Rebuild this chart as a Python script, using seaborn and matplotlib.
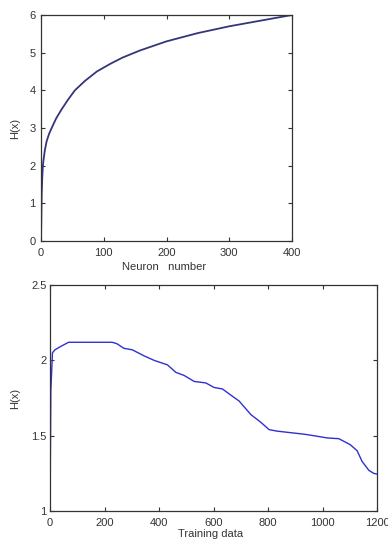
import numpy as np
import pandas as pd
import matplotlib
matplotlib.use("Agg")
import matplotlib.pyplot as plt
import seaborn as sns
from matplotlib.ticker import FormatStrFormatter

# top panel: H(x) against neuron number
neurons = [0, 1, 2, 3, 4, 6, 9, 13, 17, 24, 33, 43, 54, 70, 89, 110, 130,
           158, 200, 250, 300, 350, 400]
h_neuron = [0, 1.2, 1.7, 2.0, 2.15, 2.4, 2.65, 2.85, 3.0, 3.25, 3.5, 3.75,
            4.0, 4.25, 4.5, 4.7, 4.87, 5.06, 5.3, 5.52, 5.7, 5.85, 6.0]

# bottom panel: H(x) against training data
training = [0, 3, 9, 18, 37, 68, 120, 180, 228, 246, 271, 302, 345, 382,
            431, 462, 492, 529, 572, 602, 633, 663, 694, 737, 773, 804,
            834, 883, 932, 968, 1017, 1060, 1102, 1127, 1145, 1170, 1188, 1200]
h_training = [1.0, 1.8, 2.05, 2.07, 2.09, 2.12, 2.12, 2.12, 2.12, 2.11,
              2.08, 2.07, 2.03, 2.0, 1.97, 1.92, 1.9, 1.86, 1.85, 1.82,
              1.81, 1.77, 1.73, 1.64, 1.59, 1.54, 1.53, 1.52, 1.51, 1.5,
              1.485, 1.48, 1.44, 1.4, 1.33, 1.27, 1.25, 1.245]

sns.set_style("ticks")
plt.rcParams['font.family'] = ['Liberation Sans', 'DejaVu Sans']

fig = plt.figure(figsize=(3.88, 5.43), dpi=100)
ax1 = fig.add_axes([0.1057, 0.5562, 0.647, 0.4162])
ax2 = fig.add_axes([0.1289, 0.0589, 0.8428, 0.4162])

df1 = pd.DataFrame({"n": neurons, "h": h_neuron})
df2 = pd.DataFrame({"t": training, "h": h_training})

sns.lineplot(data=df1, x="n", y="h", ax=ax1, color="#35357a", lw=1.3)
sns.lineplot(data=df2, x="t", y="h", ax=ax2, color="#3030d0", lw=1.0)

ax1.set_xlim(0, 400)
ax1.set_ylim(0, 6)
ax1.set_xticks(np.arange(0, 401, 100))
ax1.set_yticks(np.arange(0, 7, 1))

ax2.set_xlim(0, 1200)
ax2.set_ylim(1, 2.5)
ax2.set_xticks(np.arange(0, 1201, 200))
ax2.set_yticks([1, 1.5, 2, 2.5])
ax2.yaxis.set_major_formatter(FormatStrFormatter('%g'))

for ax in (ax1, ax2):
    for s in ax.spines.values():
        s.set_visible(True)
        s.set_color("#333333")
        s.set_linewidth(0.9)
    ax.tick_params(direction="in", length=3, width=0.8, colors="#333333",
                   labelsize=8, top=True, right=True, labelcolor="#333333")
    ax.tick_params(axis="x", pad=5)
    ax.set_ylabel("H(x)", fontsize=8, color="#333333")

ax1.tick_params(axis="y", pad=4)
ax2.tick_params(axis="y", pad=2.5)

ax1.set_xlabel("Neuron   number", fontsize=8, color="#333333")
ax2.set_xlabel("Training data", fontsize=8, color="#333333")
ax1.yaxis.set_label_coords(-0.084, 0.5)
ax2.yaxis.set_label_coords(-0.092, 0.5)
ax1.xaxis.set_label_coords(0.49, -0.093)
ax2.xaxis.set_label_coords(0.49, -0.08)

fig.savefig("out.png", dpi=100)
